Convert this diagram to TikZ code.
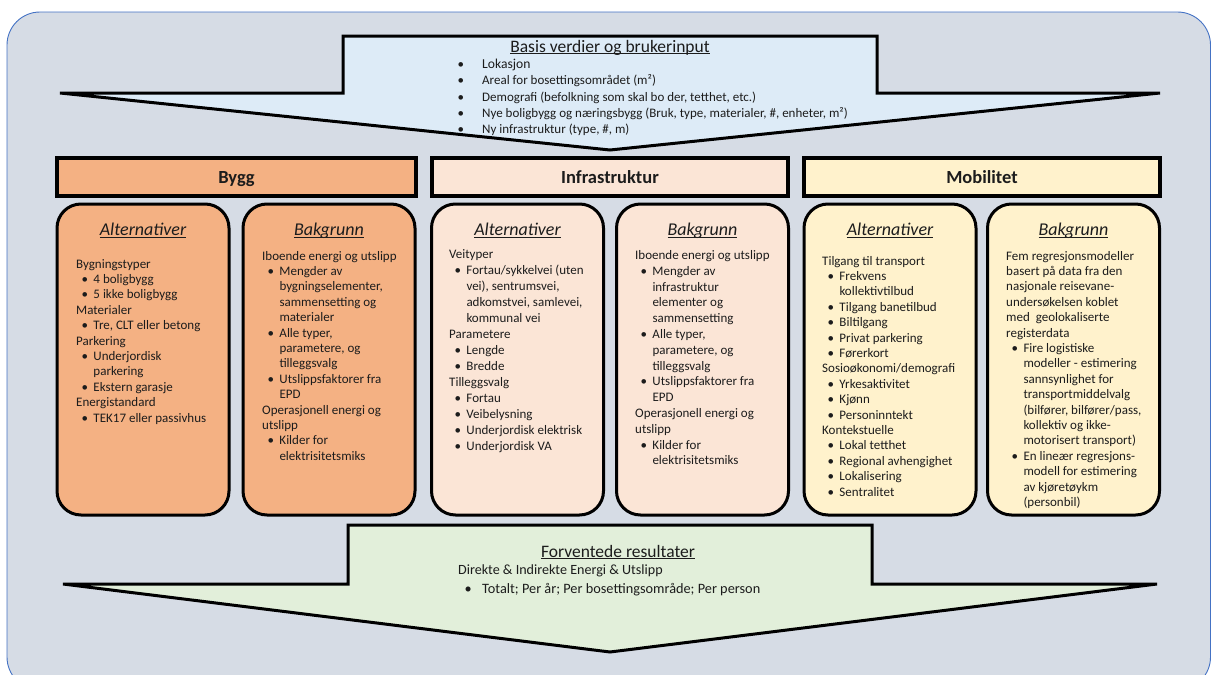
\documentclass[tikz,border=0pt]{standalone}
\usepackage{fontspec}
\setmainfont{Carlito}
\usetikzlibrary{shapes.misc}

\definecolor{canvasfill}{HTML}{D6DCE5}
\definecolor{canvasline}{HTML}{4472C4}
\definecolor{inputfill}{HTML}{DDEBF7}
\definecolor{outputfill}{HTML}{E2EFDA}
\definecolor{byggfill}{HTML}{F4B183}
\definecolor{infrafill}{HTML}{FBE5D6}
\definecolor{mobilfill}{HTML}{FFF2CC}
\definecolor{ink}{HTML}{1C1C1C}

% underline that sits close to the baseline
\newcommand\ulin[1]{\setbox0=\hbox{#1}\rlap{\rule[-0.13em]{\wd0}{0.065em}}\box0}
% bullet item and continuation indent inside the panels
\newcommand\bi{\hspace*{5.5pt}\makebox[11.8pt][l]{•}}
\newcommand\ci{\hspace*{17.3pt}}

\tikzset{
  panel/.style={draw=black, line width=3pt, rounded corners=24pt,
    minimum width=172pt, minimum height=311pt, inner sep=0pt},
  header/.style={chamfered rectangle, chamfered rectangle corners={north east,south west},
    chamfered rectangle xsep=7pt, chamfered rectangle ysep=7pt,
    draw=black, line width=3.5pt, minimum height=38pt, inner sep=0pt},
  hdrtext/.style={anchor=base, inner sep=0pt, font=\fontsize{18.5}{22}\selectfont\bfseries},
  paneltitle/.style={anchor=base, inner sep=0pt, font=\fontsize{18}{21}\selectfont\itshape},
  bigtitle/.style={anchor=base, inner sep=0pt, font=\fontsize{17.5}{21}\selectfont},
  body/.style={anchor=north west, inner sep=0pt, align=left, font=\fontsize{13}{15.4}\selectfont},
  plain/.style={anchor=base west, inner sep=0pt},
  flowarrow/.style={draw=black, line width=3pt},
}

\begin{document}
\begin{tikzpicture}[x=1pt, y=-1pt, every node/.style={text=ink}]
\useasboundingbox (0,0) rectangle (1211,675);
\clip (0,0) rectangle (1211,675);

% canvas
\draw[canvasline, fill=canvasfill, line width=0.9pt, rounded corners=33pt]
  (7,12) rectangle (1210.5,690);

% input arrow
\draw[flowarrow, fill=inputfill]
  (343,36) -- (877,36) -- (877,93) -- (1160,93) -- (610,150) -- (60,93) -- (343,93) -- cycle;
\node[bigtitle] (intitle) at (610,52) {\ulin{Basis verdier og brukerinput}};
\node[anchor=north west, inner sep=0pt, align=left, font=\fontsize{13}{16.2}\selectfont]
  (inlist) at (457.5,57.2) {%
  \strut\makebox[24.5pt][l]{•}{\fontsize{13.6}{16.2}\selectfont Lokasjon}\\
  \makebox[24.5pt][l]{•}Areal for bosettingsområdet (m²)\\
  \makebox[24.5pt][l]{•}Demografi (befolkning som skal bo der, tetthet, etc.)\\
  \makebox[24.5pt][l]{•}Nye boligbygg og næringsbygg (Bruk, type, materialer, \#, enheter, m²)\\
  \makebox[24.5pt][l]{•}Ny infrastruktur (type, \#, m)};

% output arrow
\draw[flowarrow, fill=outputfill]
  (348,525) -- (872,525) -- (872,584) -- (1157,584) -- (610,652) -- (63,584) -- (348,584) -- cycle;
\node[bigtitle] (outtitle) at (618,557) {\ulin{Forventede resultater}};
\node[plain, font=\fontsize{14.1}{18}\selectfont] (outhead) at (458,574.5)
  {Direkte \& Indirekte Energi \& Utslipp};
\node[plain, font=\fontsize{14.3}{18}\selectfont] (outitem) at (464.5,593)
  {\makebox[17.5pt][l]{•}Totalt; Per år; Per bosettingsområde; Per person};

% group headers
\node[header, fill=byggfill,  minimum width=359pt] (hbygg)  at (236.5,177) {};
\node[header, fill=infrafill, minimum width=356pt] (hinfra) at (610,177) {};
\node[header, fill=mobilfill, minimum width=356pt] (hmobil) at (982,177) {};
\node[hdrtext] (tbygg)  at (236.5,183.5) {Bygg};
\node[hdrtext] (tinfra) at (610,183.5) {Infrastruktur};
\node[hdrtext] (tmobil) at (982,183.5) {Mobilitet};

% panels
\node[panel, fill=byggfill]  (pba) at (143,359.5) {};
\node[panel, fill=byggfill]  (pbb) at (329,359.5) {};
\node[panel, fill=infrafill] (pia) at (517.5,359.5) {};
\node[panel, fill=infrafill] (pib) at (702.5,359.5) {};
\node[panel, fill=mobilfill] (pma) at (890,359.5) {};
\node[panel, fill=mobilfill] (pmb) at (1073.5,359.5) {};

\node[paneltitle] (tba) at (143,235.5) {\ulin{Alternativer}};
\node[paneltitle] (tbb) at (329,235.5) {\ulin{Bakgrunn}};
\node[paneltitle] (tia) at (517.5,235.5) {\ulin{Alternativer}};
\node[paneltitle] (tib) at (702.5,235.5) {\ulin{Bakgrunn}};
\node[paneltitle] (tma) at (890,235.5) {\ulin{Alternativer}};
\node[paneltitle] (tmb) at (1073.5,235.5) {\ulin{Bakgrunn}};

% Bygg
\node[body] (bba) at (76,257.2) {%
  \strut Bygningstyper\\
  \bi 4 boligbygg\\
  \bi 5 ikke boligbygg\\
  Materialer\\
  \bi Tre, CLT eller betong\\
  Parkering\\
  \bi Underjordisk\\
  \ci parkering\\
  \bi Ekstern garasje\\
  Energistandard\\
  \bi TEK17 eller passivhus};

\node[body] (bbb) at (262,249.2) {%
  \strut Iboende energi og utslipp\\
  \bi Mengder av\\
  \ci bygningselementer,\\
  \ci sammensetting og\\
  \ci materialer\\
  \bi Alle typer,\\
  \ci parametere, og\\
  \ci tilleggsvalg\\
  \bi Utslippsfaktorer fra\\
  \ci EPD\\
  Operasjonell energi og\\
  utslipp\\
  \bi Kilder for\\
  \ci elektrisitetsmiks};

% Infrastruktur
\node[body, font=\fontsize{13}{16}\selectfont] (bia) at (449,247) {%
  \strut Veityper\\
  \bi Fortau/sykkelvei (uten\\
  \ci vei), sentrumsvei,\\
  \ci adkomstvei, samlevei,\\
  \ci kommunal vei\\
  Parametere\\
  \bi Lengde\\
  \bi Bredde\\
  Tilleggsvalg\\
  \bi Fortau\\
  \bi Veibelysning\\
  \bi Underjordisk elektrisk\\
  \bi Underjordisk VA};

\node[body, font=\fontsize{13}{15.8}\selectfont] (bib) at (635,248.2) {%
  \strut Iboende energi og utslipp\\
  \bi Mengder av\\
  \ci infrastruktur\\
  \ci elementer og\\
  \ci sammensetting\\
  \bi Alle typer,\\
  \ci parametere, og\\
  \ci tilleggsvalg\\
  \bi Utslippsfaktorer fra\\
  \ci EPD\\
  Operasjonell energi og\\
  utslipp\\
  \bi Kilder for\\
  \ci elektrisitetsmiks};

% Mobilitet
\node[body] (bma) at (822,254.2) {%
  \strut Tilgang til transport\\
  \bi Frekvens\\
  \ci kollektivtilbud\\
  \bi Tilgang banetilbud\\
  \bi Biltilgang\\
  \bi Privat parkering\\
  \bi Førerkort\\
  Sosioøkonomi/demografi\\
  \bi Yrkesaktivitet\\
  \bi Kjønn\\
  \bi Personinntekt\\
  Kontekstuelle\\
  \bi Lokal tetthet\\
  \bi Regional avhengighet\\
  \bi Lokalisering\\
  \bi Sentralitet};

\node[body] (bmb) at (1006,249.2) {%
  \strut Fem regresjonsmodeller\\
  basert på data fra den\\
  nasjonale reisevane-\\
  undersøkelsen koblet\\
  med~ geolokaliserte\\
  registerdata\\
  \bi Fire logistiske\\
  \ci modeller - estimering\\
  \ci sannsynlighet for\\
  \ci transportmiddelvalg\\
  \ci (bilfører, bilfører/pass,\\
  \ci kollektiv og ikke-\\
  \ci motorisert transport)\\
  \bi En lineær regresjons-\\
  \ci modell for estimering\\
  \ci av kjøretøykm\\
  \ci (personbil)};
\end{tikzpicture}
\end{document}
